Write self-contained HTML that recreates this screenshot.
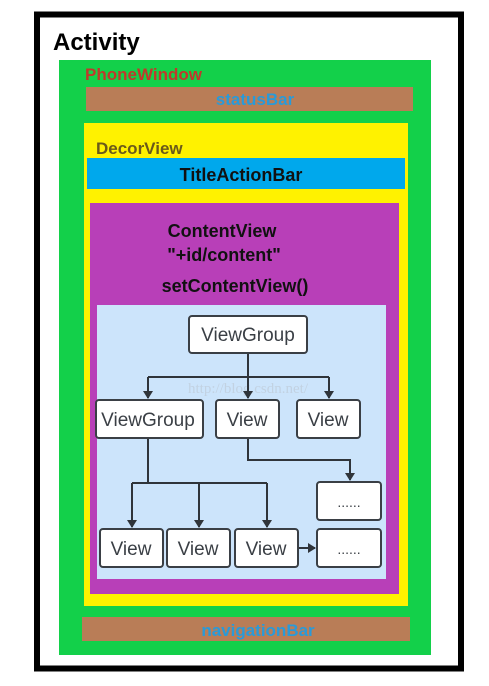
<!DOCTYPE html>
<html><head><meta charset="utf-8"><style>
html,body{margin:0;padding:0;background:#fff;}
svg{display:block;}
text{font-family:"Liberation Sans","DejaVu Sans",sans-serif;}
.b{font-weight:bold;}
.n{font-size:19px;fill:#3a3f45;}
</style></head><body>
<svg width="489" height="686" viewBox="0 0 489 686" xmlns="http://www.w3.org/2000/svg">
<defs><marker id="a" markerWidth="8" markerHeight="10" refX="7" refY="5" orient="auto" markerUnits="userSpaceOnUse"><path d="M0,0 L8,5 L0,10 z" fill="#2f343a"/></marker></defs>
<rect x="37" y="14.5" width="424" height="654" fill="#fff" stroke="#000" stroke-width="6"/>
<text x="53" y="50" class="b" font-size="24" fill="#000">Activity</text>
<rect x="59" y="60" width="372" height="595" fill="#13d04a"/>
<text x="85" y="80" class="b" font-size="17" fill="#c0392b">PhoneWindow</text>
<rect x="86" y="87" width="327" height="24" fill="#b97d57"/>
<text x="255" y="105" class="b" font-size="17" fill="#2a9ad8" text-anchor="middle">statusBar</text>
<rect x="84" y="123" width="324" height="483" fill="#fff200"/>
<text x="96" y="154" class="b" font-size="17" fill="#6b5a1a">DecorView</text>
<rect x="87" y="158" width="318" height="31" fill="#00a8ec"/>
<text x="241" y="181" class="b" font-size="18" fill="#111" text-anchor="middle">TitleActionBar</text>
<rect x="90" y="203" width="309" height="391" fill="#b83fb8"/>
<text x="222" y="237" class="b" font-size="18" fill="#111" text-anchor="middle">ContentView</text>
<text x="224" y="261" class="b" font-size="18" fill="#111" text-anchor="middle">"+id/content"</text>
<text x="235" y="292" class="b" font-size="18" fill="#111" text-anchor="middle">setContentView()</text>
<rect x="97" y="305" width="289" height="274" fill="#cce4fb"/>
<text x="248" y="393" font-size="15" fill="#c2d2e2" text-anchor="middle" style="font-family:'Liberation Serif',serif">http://blog.csdn.net/</text>
<g stroke="#2f343a" stroke-width="2" fill="none">
<path d="M248,353 V377"/><path d="M148,377 H329"/>
<path d="M148,377 V398" marker-end="url(#a)"/><path d="M248,377 V398" marker-end="url(#a)"/><path d="M329,377 V398" marker-end="url(#a)"/>
<path d="M148,438 V483 M132,483 H267"/>
<path d="M132,483 V527" marker-end="url(#a)"/><path d="M199,483 V527" marker-end="url(#a)"/><path d="M267,483 V527" marker-end="url(#a)"/>
<path d="M248,438 V460 H350 V480" marker-end="url(#a)"/>
<path d="M298,548 H315" marker-end="url(#a)"/>
</g>
<g fill="#fff" stroke="#3a3f45" stroke-width="2">
<rect x="189" y="316" width="118" height="37" rx="3"/>
<rect x="96" y="400" width="107" height="38" rx="3"/>
<rect x="216" y="400" width="63" height="38" rx="3"/>
<rect x="297" y="400" width="63" height="38" rx="3"/>
<rect x="317" y="482" width="64" height="38" rx="3"/>
<rect x="100" y="529" width="63" height="38" rx="3"/>
<rect x="167" y="529" width="63" height="38" rx="3"/>
<rect x="235" y="529" width="63" height="38" rx="3"/>
<rect x="317" y="529" width="64" height="38" rx="3"/>
</g>
<g class="n" text-anchor="middle">
<text x="248" y="341">ViewGroup</text>
<text x="148" y="426">ViewGroup</text>
<text x="247" y="426">View</text>
<text x="328" y="426">View</text>
<text x="349" y="507" font-size="14">......</text>
<text x="131" y="555">View</text>
<text x="198" y="555">View</text>
<text x="266" y="555">View</text>
<text x="349" y="554" font-size="14">......</text>
</g>
<rect x="82" y="617" width="328" height="24" fill="#b97d57"/>
<text x="258" y="636" class="b" font-size="17" fill="#2a9ad8" text-anchor="middle">navigationBar</text>
</svg>
</body></html>
